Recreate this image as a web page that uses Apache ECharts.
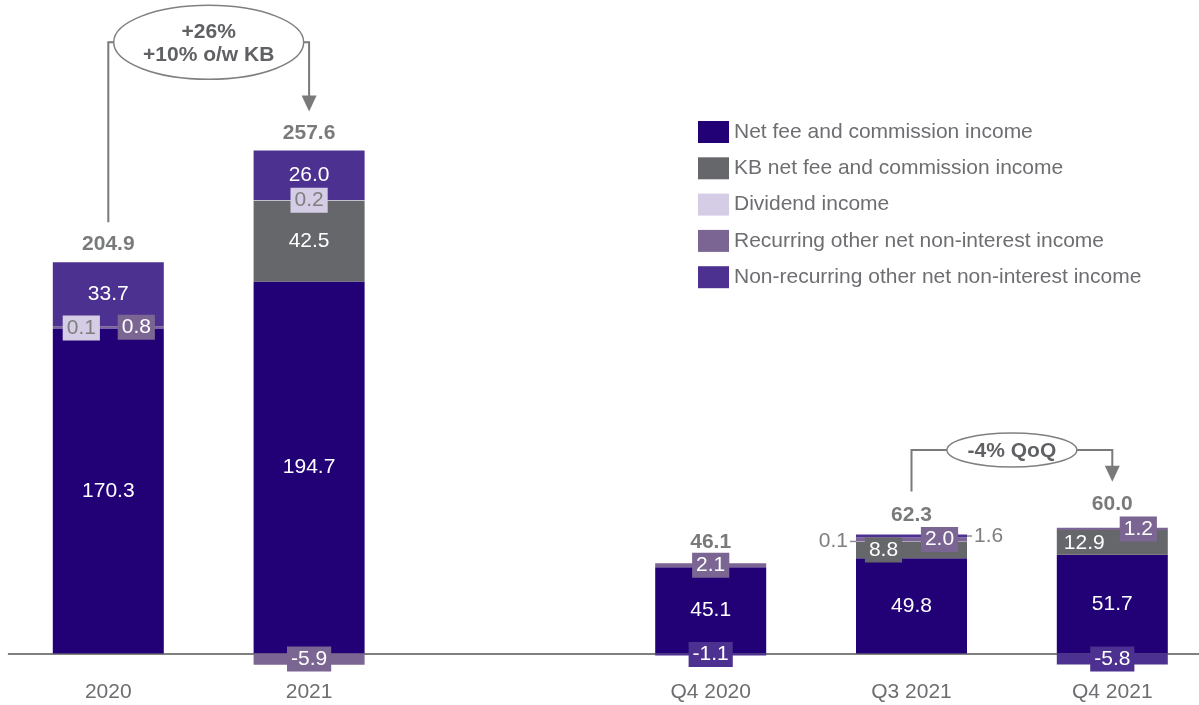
<!DOCTYPE html>
<html><head><meta charset="utf-8">
<script src="https://cdn.jsdelivr.net/npm/echarts@6/dist/echarts.min.js"></script>
<style>html,body{margin:0;padding:0;background:#fff}#c{width:1199px;height:705px}</style>
</head><body><div id="c"></div>
<script>
// ---------- data ----------
const categories = ['2020', '2021', '', 'Q4 2020', 'Q3 2021', 'Q4 2021'];
const netFee       = [170.3, 194.7, null, 45.1, 49.8, 51.7];
const kbNetFee     = [0,     42.5,  null, 0,    8.8,  12.9];
const dividend     = [0.1,   0.2,   null, 0,    0.1,  0];
const recurring    = [0.8,   -5.9,  null, 2.1,  2.0,  1.2];
const nonRecurring = [33.7,  26.0,  null, -1.1, 1.6,  -5.8];
const totals       = [204.9, 257.6, null, 46.1, 62.3, 60.0];
const seriesNames = [
  'Net fee and commission income',
  'KB net fee and commission income',
  'Dividend income',
  'Recurring other net non-interest income',
  'Non-recurring other net non-interest income'
];
const annotations = [
  { from: 0, to: 1, text: '+26%\n+10% o/w KB' },
  { from: 4, to: 5, text: '-4% QoQ' }
];

// ---------- styles ----------
const seriesValues = [netFee, kbNetFee, dividend, recurring, nonRecurring];
const COLORS = ['#220075', '#65676b', '#d5cde6', '#7b6592', '#4d3191'];
const FONT = "'Liberation Sans', Arial, sans-serif";
const FS = 21;
const GRAY_TXT = '#6d6e71';
const LIGHT_TXT = '#7f7f7f';
const BOLD_TXT = '#58595b';
const LINE = '#7a7a7a';

const boxed = si => ({ backgroundColor: COLORS[si], padding: [2, 4], color: si === 2 ? LIGHT_TXT : '#fff' });
const leaderLeft = {
  position: 'left', distance: 0,
  formatter: p => '{t|' + p.value.toFixed(1) + '}{l| }',
  rich: { t: { color: LIGHT_TXT, fontSize: FS, fontFamily: FONT, padding: [0, 2, 0, 0] },
          l: { width: 6, height: 1.5, backgroundColor: '#8c8c8c' } }
};
const leaderRight = {
  position: 'right', distance: 0,
  formatter: p => '{l| }{t|' + p.value.toFixed(1) + '}',
  rich: { t: { color: LIGHT_TXT, fontSize: FS, fontFamily: FONT, padding: [0, 0, 0, 2] },
          l: { width: 5, height: 1.5, backgroundColor: '#8c8c8c' } }
};
const labelStyle = {
  '1-4': Object.assign(boxed(1), { offset: [-28, 0] }),
  '1-5': { offset: [-28, 1] },
  '2-0': Object.assign(boxed(2), { offset: [-27, 0] }),
  '2-1': boxed(2),
  '2-4': leaderLeft,
  '3-0': Object.assign(boxed(3), { offset: [28, 0] }),
  '3-1': boxed(3),
  '3-3': boxed(3),
  '3-4': Object.assign(boxed(3), { offset: [28, 0] }),
  '3-5': Object.assign(boxed(3), { offset: [26, 0] }),
  '4-3': boxed(4),
  '4-4': leaderRight,
  '4-5': boxed(4)
};
const totalLabelDistance = [6.5, 6.5, 0, 10.5, 8.5, 12.5];
const annotationStyle = [
  { level: 320, rx: 95, ry: 37, startGap: 40, tipGap: 39 },
  { level: 106.5, rx: 65, ry: 17, startGap: 43, tipGap: 46 }
];

// ---------- helpers ----------
function posSum(ci) {
  let s = 0;
  seriesValues.forEach(arr => { if (arr[ci] > 0) s += arr[ci]; });
  return s;
}
function makeData(si, arr) {
  return arr.map((v, ci) => {
    if (v === null) return '-';
    const item = { value: v };
    const st = labelStyle[si + '-' + ci];
    if (v === 0) item.label = { show: false };
    else if (st) item.label = st;
    return item;
  });
}

const barSeries = seriesNames.map((name, si) => ({
  type: 'bar', name, stack: 'all', barWidth: 111,
  itemStyle: { color: COLORS[si] },
  label: {
    show: true, position: 'inside', color: '#fff', fontSize: FS, fontFamily: FONT,
    formatter: p => p.value.toFixed(1)
  },
  emphasis: { disabled: true },
  data: makeData(si, seriesValues[si])
}));
// zero baseline drawn through the value scale, beneath bars and labels
barSeries[0].markLine = {
  silent: true, z: 1, symbol: ['none', 'none'], label: { show: false },
  lineStyle: { color: '#808080', width: 2, type: 'solid' },
  emphasis: { disabled: true },
  data: [{ yAxis: 0 }]
};

const totalSeries = {
  type: 'scatter', name: 'total', symbolSize: 1, silent: true,
  itemStyle: { color: 'rgba(0,0,0,0)' },
  label: {
    show: true, position: 'top', color: BOLD_TXT, fontSize: FS, fontWeight: 'bold', fontFamily: FONT,
    formatter: p => totals[p.dataIndex].toFixed(1)
  },
  data: totals.map((t, ci) => t === null ? { value: [ci, '-'] } :
    { value: [ci, posSum(ci)], label: { distance: totalLabelDistance[ci] } })
};

const chart = echarts.init(document.getElementById('c'), null, { renderer: 'canvas' });
chart.setOption({
  animation: false,
  backgroundColor: '#fff',
  textStyle: { fontFamily: FONT },
  grid: { left: 7.9, top: 80.5, width: 1204.8, height: 589.2, containLabel: false, outerBoundsMode: 'none' },
  legend: {
    data: seriesNames, orient: 'vertical', left: 693, top: 116,
    icon: 'rect', itemWidth: 31, itemHeight: 22, itemGap: 14.3,
    selectedMode: false,
    textStyle: { fontSize: FS, color: GRAY_TXT, fontFamily: FONT }
  },
  xAxis: {
    type: 'category', data: categories, position: 'bottom',
    axisTick: { show: false },
    axisLine: { show: false, onZero: false },
    axisLabel: { show: true, color: GRAY_TXT, fontSize: FS, fontFamily: FONT, margin: 12, interval: 0 },
    splitLine: { show: false }
  },
  yAxis: {
    type: 'value', min: -8.5, max: 300, show: false, splitLine: { show: false }
  },
  series: barSeries.concat([totalSeries])
});

// ---------- annotations (positions derived from the chart's scales) ----------
const px = (ci, v) => chart.convertToPixel({ gridIndex: 0 }, [ci, v]);
const g = [];
annotations.forEach((a, i) => {
  const s = annotationStyle[i];
  const xa = px(a.from, 0)[0], xb = px(a.to, 0)[0];
  const ya = px(a.from, posSum(a.from))[1], yb = px(a.to, posSum(a.to))[1];
  const yl = px(a.from, s.level)[1];
  const cx = (xa + xb) / 2;
  const tip = yb - s.tipGap;
  g.push({ type: 'polyline', shape: { points: [[xa, ya - s.startGap], [xa, yl], [cx - s.rx, yl]] },
           style: { stroke: LINE, lineWidth: 2, fill: null } });
  g.push({ type: 'polyline', shape: { points: [[cx + s.rx, yl], [xb, yl], [xb, tip - 15]] },
           style: { stroke: LINE, lineWidth: 2, fill: null } });
  g.push({ type: 'polygon', shape: { points: [[xb - 7.5, tip - 16], [xb + 7.5, tip - 16], [xb, tip]] },
           style: { fill: LINE } });
  g.push({ type: 'ellipse', shape: { cx: cx, cy: yl, rx: s.rx, ry: s.ry },
           style: { fill: '#fff', stroke: '#808080', lineWidth: 1.5 } });
  g.push({ type: 'text', x: cx, y: yl + 1.5,
           style: { text: a.text, fill: '#606164', fontSize: FS, fontWeight: 'bold', fontFamily: FONT,
                    align: 'center', verticalAlign: 'middle', textAlign: 'center', textVerticalAlign: 'middle',
                    lineHeight: 23 } });
});
chart.setOption({ graphic: g });
</script>
</body></html>
